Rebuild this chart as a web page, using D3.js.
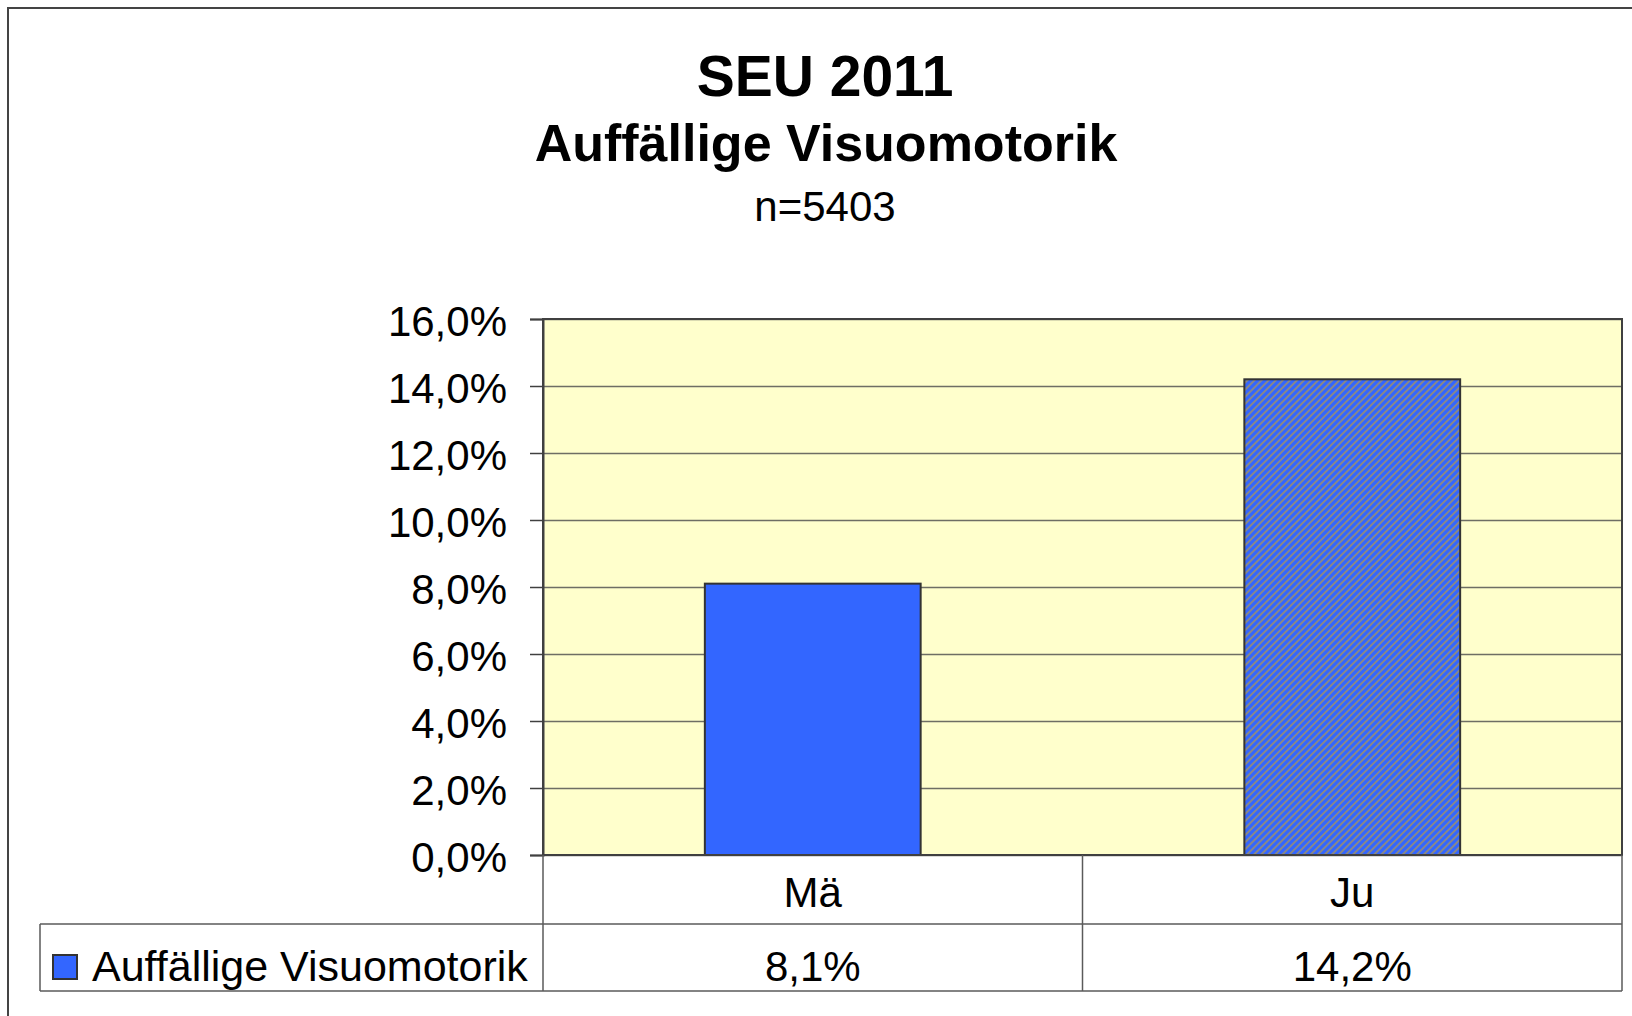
<html>
<head>
<script src="https://d3js.org/d3.v7.min.js"></script>
<style>
  body { margin: 0; background: #fff; }
  svg { display: block; font-family: "Liberation Sans", Arial, sans-serif; }
  .grid line { stroke: #6e6e64; stroke-width: 1.5px; }
  .grid path { display: none; }
  .tbl { stroke: #5a5a5a; stroke-width: 1.5px; }
</style>
</head>
<body>
<script>
// data
var categories = ["Mä", "Ju"];
var values = [8.1, 14.2];
var seriesName = "Auffällige Visuomotorik";
var yTicks = [0, 2, 4, 6, 8, 10, 12, 14, 16];
var titleLines = ["SEU 2011", "Auffällige Visuomotorik", "n=5403"];

var W = 1632, H = 1016;
var plot = {left: 543, top: 319, right: 1622, bottom: 855};
var rowMid = 924, rowEnd = 991, legendLeft = 40;

var de = d3.formatLocale({decimal: ",", thousands: ".", grouping: [3], currency: ["", "€"]});
var fmt = de.format(".1f");

var svg = d3.select("body").append("svg")
    .attr("width", W)
    .attr("height", H);

// hatch pattern for 2nd bar
var defs = svg.append("defs");
var pat = defs.append("pattern")
    .attr("id", "hatch")
    .attr("patternUnits", "userSpaceOnUse")
    .attr("width", 5).attr("height", 5)
    .attr("patternTransform", "rotate(45)");
pat.append("rect").attr("width", 5).attr("height", 5).attr("fill", "#3366ff");
pat.append("rect").attr("width", 2).attr("height", 5).attr("fill", "#888888");

// outer frame (runs off the page right/bottom)
svg.append("rect")
    .attr("x", 8).attr("y", 8)
    .attr("width", 1700).attr("height", 1100)
    .attr("fill", "none").attr("stroke", "#444").attr("stroke-width", 2);

// titles
svg.append("text").attr("x", 825).attr("y", 96)
    .attr("text-anchor", "middle").attr("font-weight", "bold").attr("font-size", 57)
    .text(titleLines[0]);
svg.append("text").attr("x", 826).attr("y", 161)
    .attr("text-anchor", "middle").attr("font-weight", "bold").attr("font-size", 52)
    .text(titleLines[1]);
svg.append("text").attr("x", 825).attr("y", 221)
    .attr("text-anchor", "middle").attr("font-size", 42)
    .text(titleLines[2]);

var x = d3.scaleBand().domain(categories)
    .range([plot.left, plot.right])
    .paddingInner(0.6).paddingOuter(0.3);
var xCell = d3.scaleBand().domain(categories).range([plot.left, plot.right]);
var y = d3.scaleLinear().domain([0, 16]).range([plot.bottom, plot.top]);

// plot background
svg.append("rect")
    .attr("x", plot.left).attr("y", plot.top)
    .attr("width", plot.right - plot.left).attr("height", plot.bottom - plot.top)
    .attr("fill", "#ffffcc");

// gridlines
svg.append("g").attr("class", "grid")
    .attr("transform", "translate(" + plot.left + ",0)")
    .call(d3.axisLeft(y).tickValues(yTicks).tickSize(-(plot.right - plot.left)).tickFormat(""));

// bars
svg.selectAll(".bar").data(values).enter().append("rect")
    .attr("class", "bar")
    .attr("x", function(d, i) { return x(categories[i]); })
    .attr("y", function(d) { return y(d); })
    .attr("width", x.bandwidth())
    .attr("height", function(d) { return y(0) - y(d); })
    .attr("fill", function(d, i) { return i == 0 ? "#3366ff" : "url(#hatch)"; })
    .attr("stroke", "#333")
    .attr("stroke-width", 2);

// plot border
svg.append("rect")
    .attr("x", plot.left).attr("y", plot.top)
    .attr("width", plot.right - plot.left).attr("height", plot.bottom - plot.top)
    .attr("fill", "none").attr("stroke", "#404040").attr("stroke-width", 2);

// y axis
var yAxis = svg.append("g")
    .attr("transform", "translate(" + plot.left + ",0)")
    .call(d3.axisLeft(y).tickValues(yTicks).tickSize(13).tickPadding(23)
        .tickFormat(function(d) { return fmt(d) + "%"; }));
yAxis.select(".domain").attr("stroke", "#404040").attr("stroke-width", 2);
yAxis.selectAll(".tick line").attr("stroke", "#404040").attr("stroke-width", 1.5);
yAxis.selectAll(".tick text").attr("font-size", 42).attr("fill", "#000").attr("dy", "0.4em")
    .attr("font-family", "Liberation Sans, Arial, sans-serif");

// data table below
var tbl = svg.append("g");
tbl.append("line").attr("class", "tbl").attr("x1", legendLeft).attr("x2", plot.right).attr("y1", rowMid).attr("y2", rowMid);
tbl.append("line").attr("class", "tbl").attr("x1", legendLeft).attr("x2", plot.right).attr("y1", rowEnd).attr("y2", rowEnd);
tbl.append("line").attr("class", "tbl").attr("x1", legendLeft).attr("x2", legendLeft).attr("y1", rowMid).attr("y2", rowEnd);
var cuts = categories.map(function(c) { return xCell(c); }).concat([plot.right]);
tbl.selectAll(".vcut").data(cuts).enter().append("line")
    .attr("class", "tbl")
    .attr("x1", function(d) { return d; }).attr("x2", function(d) { return d; })
    .attr("y1", plot.bottom).attr("y2", rowEnd);

tbl.selectAll(".cat").data(categories).enter().append("text")
    .attr("x", function(d) { return xCell(d) + xCell.bandwidth() / 2; })
    .attr("y", 907)
    .attr("text-anchor", "middle").attr("font-size", 42)
    .text(function(d) { return d; });
tbl.selectAll(".val").data(values).enter().append("text")
    .attr("x", function(d, i) { return xCell(categories[i]) + xCell.bandwidth() / 2; })
    .attr("y", 981)
    .attr("text-anchor", "middle").attr("font-size", 42)
    .text(function(d) { return fmt(d) + "%"; });

// legend key
tbl.append("rect").attr("x", 53).attr("y", 955).attr("width", 24).attr("height", 24)
    .attr("fill", "#3366ff").attr("stroke", "#333").attr("stroke-width", 2);
tbl.append("text").attr("x", 92).attr("y", 981).attr("font-size", 43).text(seriesName);
</script>
</body>
</html>
